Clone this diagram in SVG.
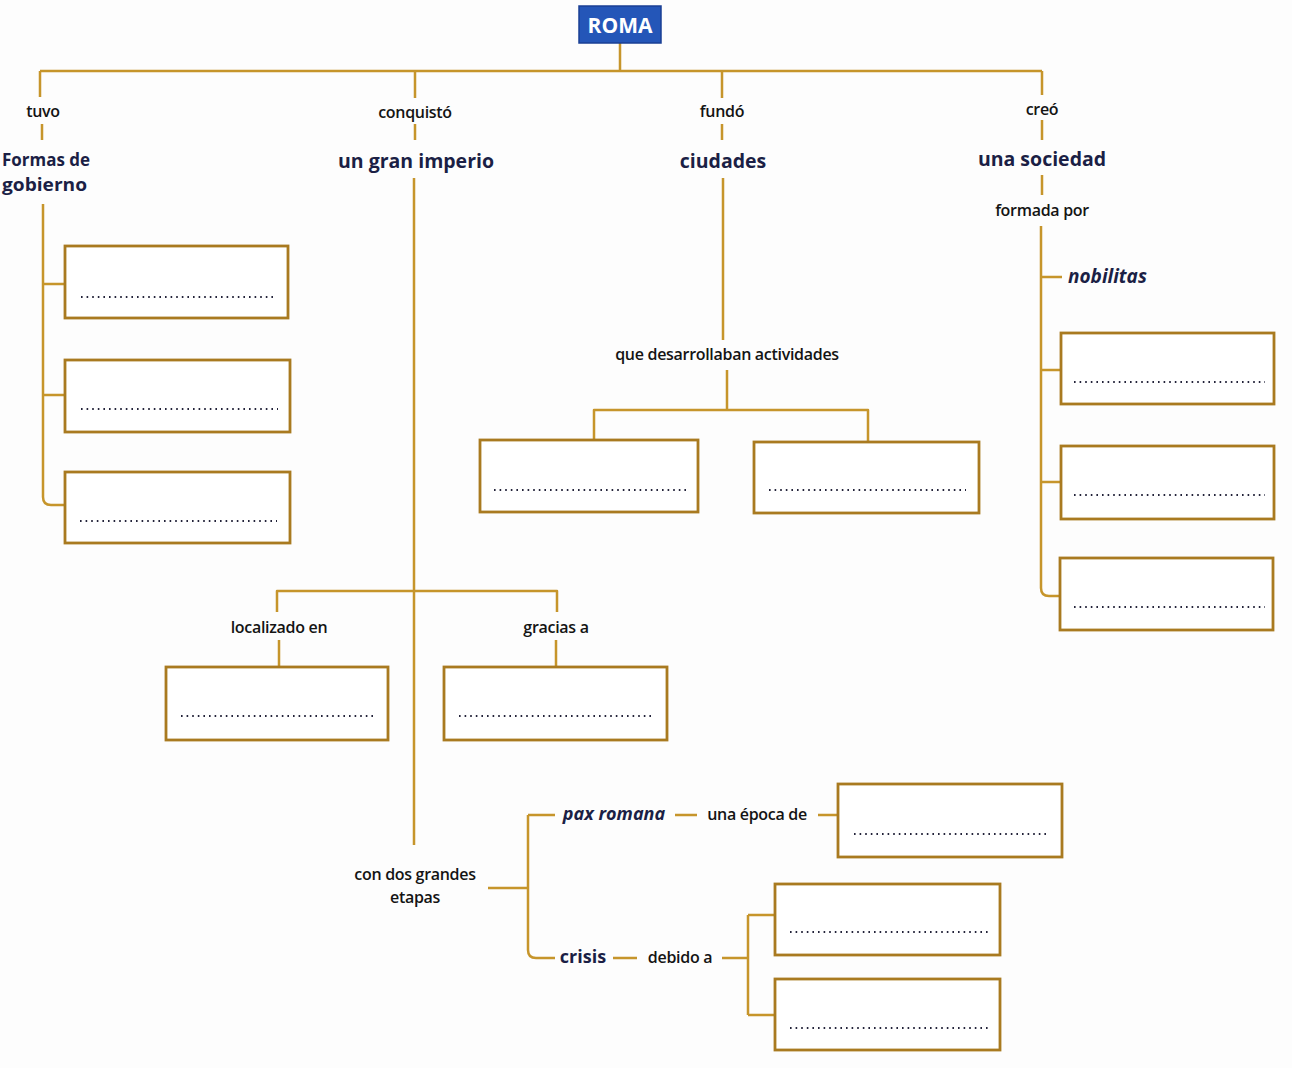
<svg xmlns="http://www.w3.org/2000/svg" width="1292" height="1068" viewBox="0 0 1292 1068">
<style>
.ln{fill:none;stroke:#c6952b;stroke-width:2.5;stroke-linejoin:round}
.bx{fill:#fff;stroke:#a97a20;stroke-width:2.8}
.dot{fill:none;stroke:#23233a;stroke-width:2;stroke-dasharray:1.6 4}
.lab{font-family:"Open Sans","Noto Sans",sans-serif;font-size:16px;font-weight:600;fill:#141414;text-anchor:middle;letter-spacing:-0.3px}
.big{font-family:"Open Sans","Noto Sans",sans-serif;font-size:19.5px;font-weight:bold;fill:#1b1f45;text-anchor:middle}
.it{font-style:italic}
</style>
<rect width="1292" height="1068" fill="#fdfdfd"/>
<g id="connectors">
<path class="ln" d="M620,43V71M40,71H1042"/>
<path class="ln" d="M40,71V97M42,124V140M43,204V497Q43,505 51,505H65M43,284H65M43,395H65"/>
<path class="ln" d="M415,71V98M415,124V140M414,178V845M277,612V591H557V612M279,640V667M556,640V667"/>
<path class="ln" d="M722,71V98M722,124V140M723,178V340M727,370V410M594,440V410H868V442"/>
<path class="ln" d="M1042,71V95M1042,120V140M1042,175V195M1041,226V588Q1041,596 1049,596H1060M1041,277H1062M1041,370H1062M1041,482H1062"/>
<path class="ln" d="M488,888H528M528,815V950Q528,958 536,958H555M528,815H555M675,815H697M818,815H838M613,958H637M722,958H748M748,915V1015M748,915H775M748,1015H775"/>
</g>
<g id="roma"><rect x="579" y="6" width="82" height="37" fill="#2456b8" stroke="#1a3f94" stroke-width="1.5"/><text x="620" y="33" font-family="Open Sans,sans-serif" font-size="21" font-weight="bold" fill="#fff" text-anchor="middle">ROMA</text></g>
<g id="tuvo"><text class="lab" x="43" y="117">tuvo</text></g>
<g id="formas"><text class="big" x="2" y="166" style="text-anchor:start;font-size:18.5px" textLength="88" lengthAdjust="spacingAndGlyphs">Formas de</text><text class="big" x="2" y="191" style="text-anchor:start;font-size:18.5px" textLength="85" lengthAdjust="spacingAndGlyphs">gobierno</text></g>
<g id="box-f1"><rect class="bx" x="65" y="246" width="223" height="72"/><path class="dot" d="M81,297H276"/></g>
<g id="box-f2"><rect class="bx" x="65" y="360" width="225" height="72"/><path class="dot" d="M81,409H278"/></g>
<g id="box-f3"><rect class="bx" x="65" y="472" width="225" height="71"/><path class="dot" d="M80,521H277"/></g>
<g id="conquisto"><text class="lab" x="415" y="118">conquistó</text></g>
<g id="imperio"><text class="big" x="416" y="168">un gran imperio</text></g>
<g id="localizado"><text class="lab" x="279" y="633">localizado en</text></g>
<g id="gracias"><text class="lab" x="556" y="633">gracias a</text></g>
<g id="box-loc"><rect class="bx" x="166" y="667" width="222" height="73"/><path class="dot" d="M181,716H376"/></g>
<g id="box-gra"><rect class="bx" x="444" y="667" width="223" height="73"/><path class="dot" d="M459,716H655"/></g>
<g id="etapas"><text class="lab" x="415" y="880">con dos grandes</text><text class="lab" x="415" y="903">etapas</text></g>
<g id="pax"><text class="big it" x="614" y="820" style="font-size:18px">pax romana</text></g>
<g id="epoca"><text class="lab" x="757" y="820">una época de</text></g>
<g id="box-pax"><rect class="bx" x="838" y="784" width="224" height="73"/><path class="dot" d="M854,834H1050"/></g>
<g id="crisis"><text class="big" x="583" y="963" style="font-size:18px">crisis</text></g>
<g id="debido"><text class="lab" x="680" y="963">debido a</text></g>
<g id="box-c1"><rect class="bx" x="775" y="884" width="225" height="71"/><path class="dot" d="M790,932H988"/></g>
<g id="box-c2"><rect class="bx" x="775" y="979" width="225" height="71"/><path class="dot" d="M790,1028H988"/></g>
<g id="fundo"><text class="lab" x="722" y="117">fundó</text></g>
<g id="ciudades"><text class="big" x="723" y="168">ciudades</text></g>
<g id="actividades"><text class="lab" x="727" y="360">que desarrollaban actividades</text></g>
<g id="box-a1"><rect class="bx" x="480" y="440" width="218" height="72"/><path class="dot" d="M494,490H687"/></g>
<g id="box-a2"><rect class="bx" x="754" y="442" width="225" height="71"/><path class="dot" d="M769,490H966"/></g>
<g id="creo"><text class="lab" x="1042" y="115">creó</text></g>
<g id="sociedad"><text class="big" x="1042" y="166">una sociedad</text></g>
<g id="formada"><text class="lab" x="1042" y="216">formada por</text></g>
<g id="nobilitas"><text class="big it" x="1068" y="283" style="text-anchor:start;font-size:19px">nobilitas</text></g>
<g id="box-s1"><rect class="bx" x="1061" y="333" width="213" height="71"/><path class="dot" d="M1074,382H1265"/></g>
<g id="box-s2"><rect class="bx" x="1061" y="446" width="213" height="73"/><path class="dot" d="M1074,495H1265"/></g>
<g id="box-s3"><rect class="bx" x="1060" y="558" width="213" height="72"/><path class="dot" d="M1074,607H1265"/></g>
</svg>
